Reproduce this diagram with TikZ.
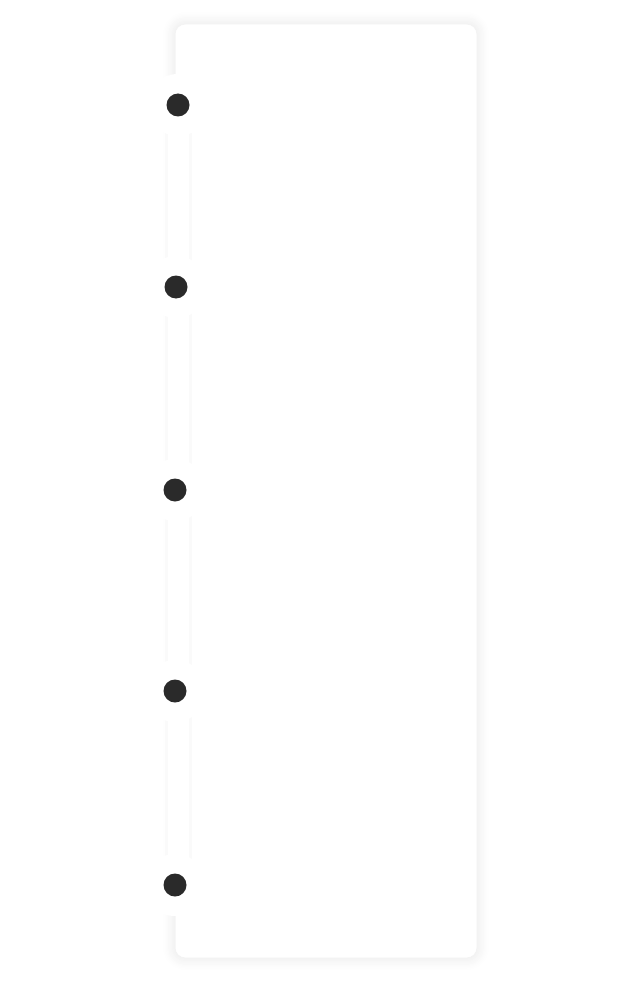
\documentclass[tikz,border=0pt]{standalone}
\usetikzlibrary{shadows.blur}
\definecolor{dotgray}{HTML}{2A2A2A}
\definecolor{edgegray}{HTML}{F3F3F3}
\tikzset{
  card/.style={draw=edgegray,line width=1pt,rounded corners=10pt,fill=white,
    blur shadow={shadow blur steps=10,shadow xshift=0pt,shadow yshift=0pt,shadow blur radius=12pt,shadow opacity=10}},
  halo/.style={circle,fill=white,minimum size=62pt,inner sep=0pt},
  dot/.style={circle,fill=dotgray,minimum size=23pt,inner sep=0pt}
}
\begin{document}
\begin{tikzpicture}[x=1pt,y=-1pt]
  \useasboundingbox (0,0) rectangle (636,987);
  % outer card
  \node[card,minimum width=302pt,minimum height=934pt] (card) at (326,491) {};
  % timeline rail
  \fill[black!2] (165,105) rectangle (192,885);
  \fill[white] (168,105) rectangle (189,885);
  % steps
  \foreach \name/\x/\y in {a/178/105,b/176/287,c/175/490,d/175/691,e/175/885}{
    \node[halo] (h\name) at (\x,\y) {};
    \node[dot] (d\name) at (\x,\y) {};
  }
\end{tikzpicture}
\end{document}
